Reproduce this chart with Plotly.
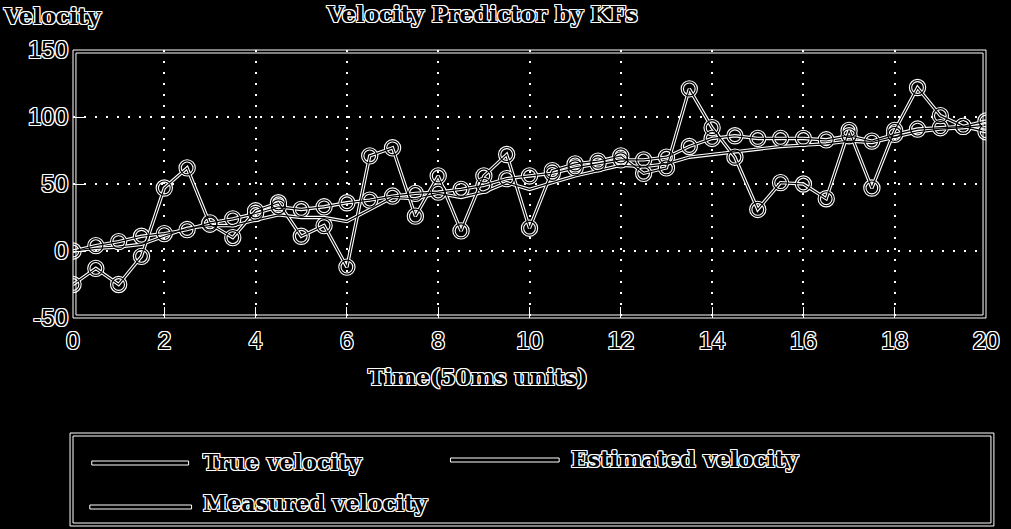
import plotly.graph_objects as go

# time axis, one sample every 0.5 units
t = [i * 0.5 for i in range(41)]

true_v = [0, 4, 7, 11, 13, 16, 21, 24, 28, 33,
          31, 33, 36, 38, 41, 43, 44, 46, 49, 54,
          56, 58, 62, 65, 68, 68, 70, 78, 84, 86,
          84, 84, 84, 83, 86, 82, 87, 91, 92, 93,
          97]
est_v = [0, 2, 3, 5, 11, 17, 19, 19, 23, 27,
         25, 25, 22, 31, 40, 39, 43, 40, 44, 51,
         46, 51, 56, 60, 64, 63, 65, 70, 72, 74,
         76, 78, 79, 80, 82, 81, 85, 89, 91, 92,
         94]
meas_v = [-25, -13, -25, -4, 47, 62, 20, 10, 30, 36,
          11, 19, -12, 71, 77, 26, 56, 15, 56, 72,
          17, 60, 65, 67, 71, 58, 62, 121, 92, 70,
          31, 51, 50, 39, 90, 47, 90, 122, 101, 93,
          89]

legend_names = ["True velocity", "Estimated velocity", "Measured velocity"]
x_ticks = list(range(0, 21, 2))
y_ticks = [-50, 0, 50, 100, 150]
y_labels = ["-50", "0", "50", "100", "150"]

W, H = 1011, 529
L, R, T, B = 73, 997, 50, 318

# outlined (hollow) text look
OUT = ("1px 0 0 #fff, -1px 0 0 #fff, 0 1px 0 #fff, 0 -1px 0 #fff, "
       "1px 1px 0 #fff, -1px -1px 0 #fff, 1px -1px 0 #fff, -1px 1px 0 #fff")
SERIF = "DejaVu Serif"
SANS = "Liberation Sans Narrow, Liberation Sans, Arial Narrow"
TXT = dict(family=SERIF, size=22, color="black", weight="bold", shadow=OUT)


def px(x):
    return (x - L) / (R - L)


def py(y):
    return (B - y) / (B - T)


fig = go.Figure()

series = [
    (true_v, True),
    (est_v, False),
    (meas_v, True),
]

# white wide pass first, black thin pass over it -> double edged lines
for color, lw in [("white", 3.4), ("black", 1.2)]:
    for vals, has_marker in series:
        fig.add_trace(go.Scatter(
            x=t, y=vals,
            mode="lines+markers" if has_marker else "lines",
            line=dict(color=color, width=lw),
            marker=dict(symbol="circle-open", size=14,
                        line=dict(color=color, width=lw)),
            showlegend=False, hoverinfo="skip",
        ))

shapes = []
# double frame of the axes box
for d in [0, 3]:
    shapes.append(dict(type="rect", xref="paper", yref="paper",
                       x0=px(L + d), x1=px(R - d), y0=py(B - d), y1=py(T + d),
                       line=dict(color="white", width=1)))

# legend frame
for d in [0, 3]:
    shapes.append(dict(type="rect", xref="paper", yref="paper",
                       x0=px(70 + d), x1=px(1005 - d), y0=py(433 + d), y1=py(526 - d),
                       line=dict(color="white", width=1)))

legend_pos = [(92, 190, 463, 203, 462), (455, 565, 460, 575, 459), (90, 193, 507, 203, 503)]
annotations = []
for name, (sx0, sx1, sy, tx, ty) in zip(legend_names, legend_pos):
    shapes.append(dict(type="rect", xref="paper", yref="paper",
                       x0=px(sx0), x1=px(sx1), y0=py(sy + 2), y1=py(sy - 2),
                       line=dict(color="white", width=1), fillcolor="black"))
    annotations.append(dict(text=name, xref="paper", yref="paper",
                            x=px(tx), y=py(ty), xanchor="left", yanchor="middle",
                            showarrow=False, font=TXT))

annotations += [
    dict(text="Velocity Predictor by KFs", xref="paper", yref="paper",
         x=px(487), y=py(14), xanchor="center", yanchor="middle", showarrow=False,
         font=TXT),
    dict(text="Velocity", xref="paper", yref="paper",
         x=px(0), y=py(16), xanchor="left", yanchor="middle", showarrow=False,
         font=TXT),
    dict(text="Time(50ms units)", xref="paper", yref="paper",
         x=px(483), y=py(377), xanchor="center", yanchor="middle", showarrow=False,
         font=TXT),
]

axis_common = dict(
    showgrid=True, gridcolor="white", gridwidth=1.5, griddash="2px,9px",
    zeroline=False, showline=False,
    ticks="inside", ticklen=11, tickcolor="white", tickwidth=1,
    tickfont=dict(family=SANS, size=24, color="black", shadow=OUT),
)

fig.update_layout(
    width=W, height=H,
    margin=dict(l=L, r=W - R, t=T, b=H - B),
    paper_bgcolor="black", plot_bgcolor="black",
    showlegend=False,
    shapes=shapes, annotations=annotations,
    xaxis=dict(range=[0, 20], tickvals=x_ticks, ticklabelstandoff=6, **axis_common),
    yaxis=dict(range=[-50, 150], tickvals=y_ticks, ticktext=y_labels,
               ticklabelstandoff=4, **axis_common),
)

# page body has a default margin; drop it so the figure sits at the window corner
fig.write_html("out.html", config={"displayModeBar": False},
               post_script="document.body.style.margin='0';document.body.style.background='black';")
